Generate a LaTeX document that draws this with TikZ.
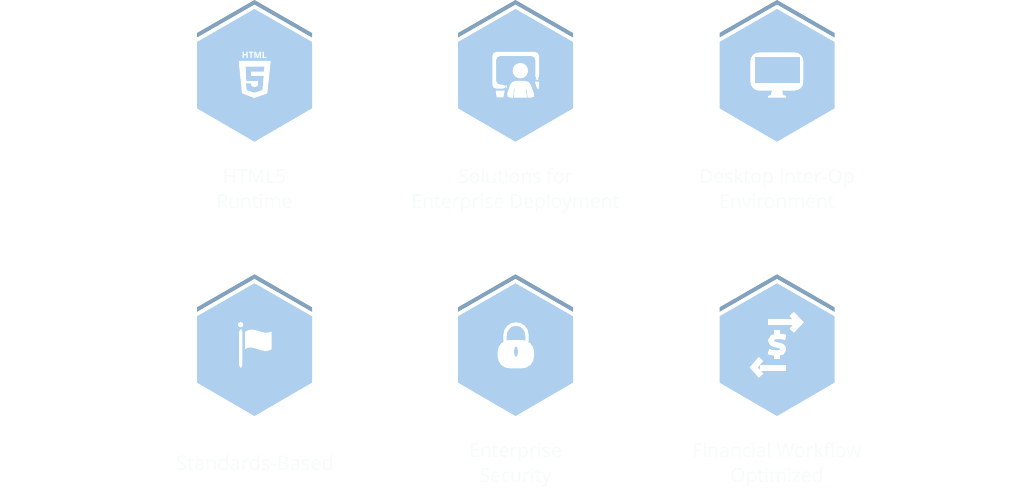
\documentclass[tikz,border=0pt]{standalone}
\usepackage{fontspec}
\setmainfont{Open Sans}
\definecolor{hexblue}{HTML}{AED0EE}
\definecolor{hexdark}{HTML}{82A2BE}
\definecolor{labelcol}{HTML}{F5FCFA}
\tikzset{
  hexbody/.style={fill=hexblue,draw=none},
  hexcap/.style={fill=hexdark,draw=none},
  iconw/.style={fill=white,draw=none},
  iconb/.style={fill=hexblue,draw=none},
  label/.style={anchor=base,inner sep=0pt,outer sep=0pt,align=center,text=labelcol,font=\fontsize{19.3}{25}\selectfont},
}
\newcommand{\HexAt}[2]{%
  \begin{scope}[shift={(#1,#2)}]
    \fill[hexcap] (-57.5,33) -- (0,0) -- (57.5,33) -- (57.5,37.5) -- (0,4.5) -- (-57.5,37.5) -- cycle;
    \fill[hexbody] (0,9) -- (57.5,42) -- (57.5,108.3) -- (0,141.7) -- (-57.5,108.3) -- (-57.5,42) -- cycle;
  \end{scope}}
\begin{document}
\begin{tikzpicture}[x=1pt,y=-1pt]
\path[use as bounding box,fill=white] (0,0) rectangle (1025,492);
\HexAt{254.5}{0}\HexAt{515.5}{0}\HexAt{777}{0}
\HexAt{254.5}{274.3}\HexAt{515.5}{274.3}\HexAt{777}{274.3}

% HTML5
\begin{scope}[shift={(190,0)},scale=1/3]
  \node[inner sep=0pt,text=white,font=\fontsize{8.8}{9}\selectfont\bfseries] (htmltag) at (193,166) {HTML};
  \fill[iconw] (146,183) -- (242,183) -- (232,280) -- (193,294) -- (156,280) -- cycle;
  \fill[iconb] (167,200) -- (223,200) -- (221,215) -- (182,215) -- (183,228) -- (221,228) -- (217,270) -- (193,278) -- (170,270) -- (168,250) -- (183,250) -- (184,258) -- (193,262) -- (203,258) -- (205,243) -- (169,243) -- cycle;
\end{scope}

% classroom
\begin{scope}[shift={(450,0)},scale=1/3]
  \fill[iconw,rounded corners=4] (127,156) -- (267,156) -- (267,240) -- (256,240) -- (256,168) -- (138,168) -- (138,254) -- (170,254) -- (170,266) -- (127,266) -- cycle;
  \fill[iconw] (255,245) -- (267,245) -- (267,266) -- (261,266) -- cycle;
  \fill[iconw] (137,272) -- (164,272) -- (160,292) -- (140,292) -- cycle;
  \fill[iconw] (211,212) circle[radius=23];
  \fill[iconw,rounded corners=4] (184,243) -- (238,243) -- (256,293) -- (168,293) -- cycle;
  \draw[hexblue,line width=0.5pt] (193,266) -- (190,294);
  \draw[hexblue,line width=0.5pt] (228,266) -- (232,294);
\end{scope}

% desktop
\begin{scope}[shift={(712,0)},scale=1/3]
  \fill[iconw,rounded corners=9] (115,157) rectangle (274,272);
  \fill[iconb] (128,170) rectangle (263,249);
  \fill[iconw] (180,270) -- (210,270) -- (213,285) -- (222,288) -- (222,293) -- (168,293) -- (168,288) -- (177,285) -- cycle;
\end{scope}

% flag
\begin{scope}[shift={(215,310)},scale=1/3]
  \fill[iconw] (77,44) circle[radius=8];
  \fill[iconw,rounded corners=3] (72,58) rectangle (82,173);
  \fill[iconw] (90,66) .. controls (115,45) and (140,78) .. (170,65) -- (170,118) .. controls (140,135) and (115,100) .. (90,117) -- cycle;
\end{scope}

% lock
\begin{scope}[shift={(480,310)},scale=1/3]
  \draw[white,line width=3.4pt] (75,95) -- (75,76) arc[start angle=180,end angle=360,x radius=33,y radius=34] -- (141,95);
  \fill[iconw,rounded corners=12] (53,90) rectangle (162,175);
  \fill[iconb] (108,125) ellipse[x radius=6,y radius=16];
\end{scope}

% finance
\begin{scope}[shift={(735,305)},scale=1/3]
  \fill[iconw] (100,42) rectangle (190,61);
  \draw[white,line width=6pt] (170,27) -- (194,52) -- (170,77);
  \fill[iconw] (75,179) rectangle (152,198);
  \draw[white,line width=6pt] (78,162) -- (56,187) -- (78,212);
  \draw[white,line width=5.4pt] (152,97) .. controls (135,93) and (110,90) .. (108,106) .. controls (107,125) and (146,115) .. (145,133) .. controls (144,148) and (118,146) .. (100,140);
  \fill[iconw] (118,75) rectangle (135,90);
  \fill[iconw] (118,148) rectangle (135,162);
\end{scope}

\node[label] (t1) at (254.5,208) {HTML5\\Runtime};
\node[label] (t2) at (515.5,208) {Solutions for\\Enterprise Deployment};
\node[label] (t3) at (777,208) {Desktop Inter-Op\\Environment};
\node[label,font=\fontsize{20}{25}\selectfont] (t4) at (255,470) {Standards-Based};
\node[label] (t5) at (515.5,482) {Enterprise\\Security};
\node[label] (t6) at (777,482) {Financial Workflow\\Optimized};
\end{tikzpicture}
\end{document}
